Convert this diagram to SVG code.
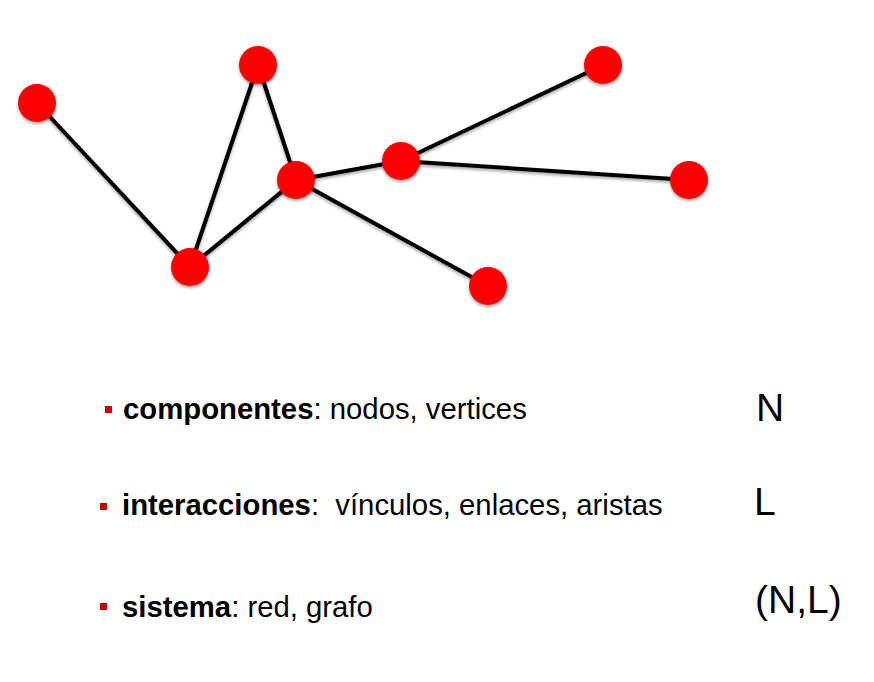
<svg xmlns="http://www.w3.org/2000/svg" width="874" height="682" viewBox="0 0 874 682">
<defs>
<filter id="sh" x="-30%" y="-30%" width="160%" height="160%">
<feDropShadow dx="0" dy="2" stdDeviation="1.5" flood-color="#000" flood-opacity="0.35"/>
</filter>
</defs>
<style>
.edge{stroke:#000;stroke-width:4;stroke-linecap:round;fill:none}
.node{fill:#ff0000}
.t{font-family:"Liberation Sans",Arial,sans-serif;font-size:29.3px;fill:#000}
.b{font-weight:bold}
.big{font-family:"Liberation Sans",Arial,sans-serif;font-size:39px;fill:#000}
.bullet{fill:#cc0000}
</style>
<rect width="874" height="682" fill="#fff"/>
<g id="connectors" filter="url(#sh)">
<line class="edge" x1="37" y1="103" x2="190" y2="267"/>
<line class="edge" x1="190" y1="267" x2="258" y2="65"/>
<line class="edge" x1="258" y1="65" x2="296" y2="180"/>
<line class="edge" x1="296" y1="180" x2="190" y2="267"/>
<line class="edge" x1="296" y1="180" x2="401" y2="161"/>
<line class="edge" x1="401" y1="161" x2="603" y2="65"/>
<line class="edge" x1="401" y1="161" x2="689" y2="180"/>
<line class="edge" x1="296" y1="180" x2="488" y2="286"/>
</g>
<g id="nA" filter="url(#sh)"><circle class="node" cx="37" cy="103" r="19"/></g>
<g id="nB" filter="url(#sh)"><circle class="node" cx="258" cy="65" r="19"/></g>
<g id="nC" filter="url(#sh)"><circle class="node" cx="296" cy="180" r="19"/></g>
<g id="nD" filter="url(#sh)"><circle class="node" cx="190" cy="267" r="19"/></g>
<g id="nE" filter="url(#sh)"><circle class="node" cx="401" cy="161" r="19"/></g>
<g id="nF" filter="url(#sh)"><circle class="node" cx="603" cy="65" r="19"/></g>
<g id="nG" filter="url(#sh)"><circle class="node" cx="689" cy="180" r="19"/></g>
<g id="nH" filter="url(#sh)"><circle class="node" cx="488" cy="286" r="19"/></g>
<g id="legend">
<rect class="bullet" x="105" y="406" width="7" height="7"/>
<text class="t" x="123" y="419"><tspan class="b">componentes</tspan>: nodos, vertices</text>
<rect class="bullet" x="100" y="503" width="7" height="7"/>
<text class="t" x="122" y="515" xml:space="preserve"><tspan class="b">interacciones</tspan>:  vínculos, enlaces, aristas</text>
<rect class="bullet" x="100" y="603" width="7" height="7"/>
<text class="t" x="122" y="617"><tspan class="b">sistema</tspan>: red, grafo</text>
<text class="big" x="756" y="421">N</text>
<text class="big" x="754" y="515">L</text>
<text class="big" x="755" y="613">(N,L)</text>
</g>
</svg>
